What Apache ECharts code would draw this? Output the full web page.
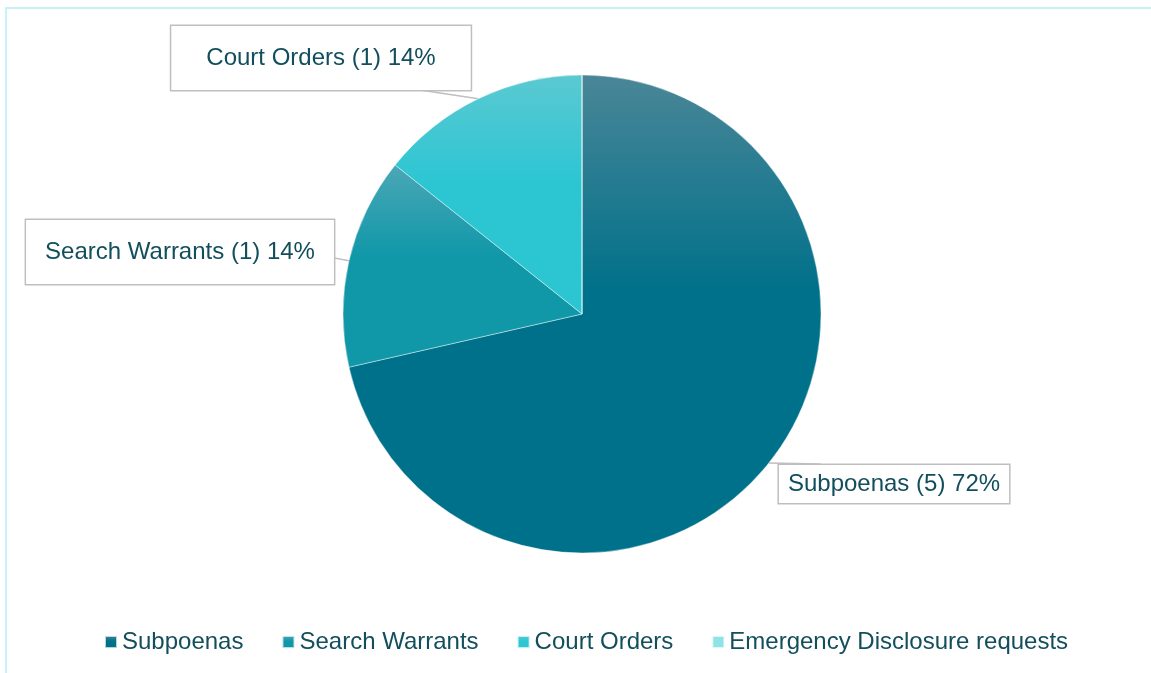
<!DOCTYPE html>
<html>
<head>
<meta charset="utf-8">
<script src="https://cdn.jsdelivr.net/npm/echarts@6/dist/echarts.min.js"></script>
<style>
  html, body { margin: 0; padding: 0; background: #fff; }
  #frame {
    position: absolute; left: 5px; top: 7px; width: 1160px; height: 700px;
    border-left: 2px solid #c6f3f8; border-top: 2px solid #c6f3f8;
    pointer-events: none; z-index: 2;
  }
  #chart { position: absolute; left: 0; top: 0; width: 1151px; height: 673px; }
</style>
</head>
<body>
<div id="chart"></div>
<div id="frame"></div>
<script>
const categories = ["Subpoenas", "Search Warrants", "Court Orders", "Emergency Disclosure requests"];
const counts = [5, 1, 1, 0];
const pctLabels = [72, 14, 14, 0]; // as printed on the chart

// gradient fills: top tint -> base colour
const topColors = ["#4a8697", "#4ba7b6", "#5bc9d1", "#8ee3e6"];
const baseColors = ["#00718a", "#1098a9", "#2cc6d3", "#8ee3e6"];

// label boxes (center x, center y), padding and leader points
const labelBoxes = [
  { x: 894, y: 484, padding: [6, 9, 6, 9], line: [[820, 464], [820, 465]] },
  { x: 180, y: 252, padding: [19, 19, 19, 19], line: [[334, 258], [334, 250]] },
  { x: 321, y: 58, padding: [19, 35, 19, 35], line: [[420, 90], [345, 90]] },
  null
];

const chart = echarts.init(document.getElementById("chart"));

const seriesData = categories.map((name, i) => ({
  name: name,
  value: counts[i],
  itemStyle: {
    color: new echarts.graphic.LinearGradient(0, 0, 0, 1, [
      { offset: 0, color: topColors[i] },
      { offset: 0.45, color: baseColors[i] },
      { offset: 1, color: baseColors[i] }
    ])
  },
  label: labelBoxes[i] ? { show: true, padding: labelBoxes[i].padding } : { show: false },
  labelLine: { show: !!labelBoxes[i] }
}));

chart.setOption({
  animation: false,
  textStyle: { fontFamily: "Liberation Sans, Arial, sans-serif" },
  legend: {
    bottom: 14,
    left: 99,
    itemWidth: 12,
    itemHeight: 12,
    itemGap: 38,
    icon: "rect",
    data: categories,
    textStyle: { fontSize: 24, color: "#124e5c", padding: [0, 0, 0, 0] }
  },
  series: [
    {
      type: "pie",
      center: [582, 314],
      radius: 239,
      startAngle: 90,
      clockwise: true,
      avoidLabelOverlap: false,
      data: seriesData,
      itemStyle: { borderColor: "rgba(255,255,255,0.7)", borderWidth: 0.6 },
      label: {
        position: "outside",
        formatter: (p) => p.name + " (" + p.value + ") " + pctLabels[p.dataIndex] + "%",
        fontSize: 24,
        lineHeight: 26,
        color: "#124e5c",
        backgroundColor: "#fff",
        borderColor: "#bfbfbf",
        borderWidth: 1.5
      },
      labelLine: {
        lineStyle: { color: "#bfbfbf", width: 1.5 }
      },
      labelLayout: (params) => {
        const box = labelBoxes[params.dataIndex];
        if (!box) return {};
        const start = params.labelLinePoints ? params.labelLinePoints[0] : box.line[0];
        return {
          x: box.x,
          y: box.y,
          align: "center",
          verticalAlign: "middle",
          labelLinePoints: [start, box.line[0], box.line[1]]
        };
      }
    }
  ]
});
</script>
</body>
</html>
